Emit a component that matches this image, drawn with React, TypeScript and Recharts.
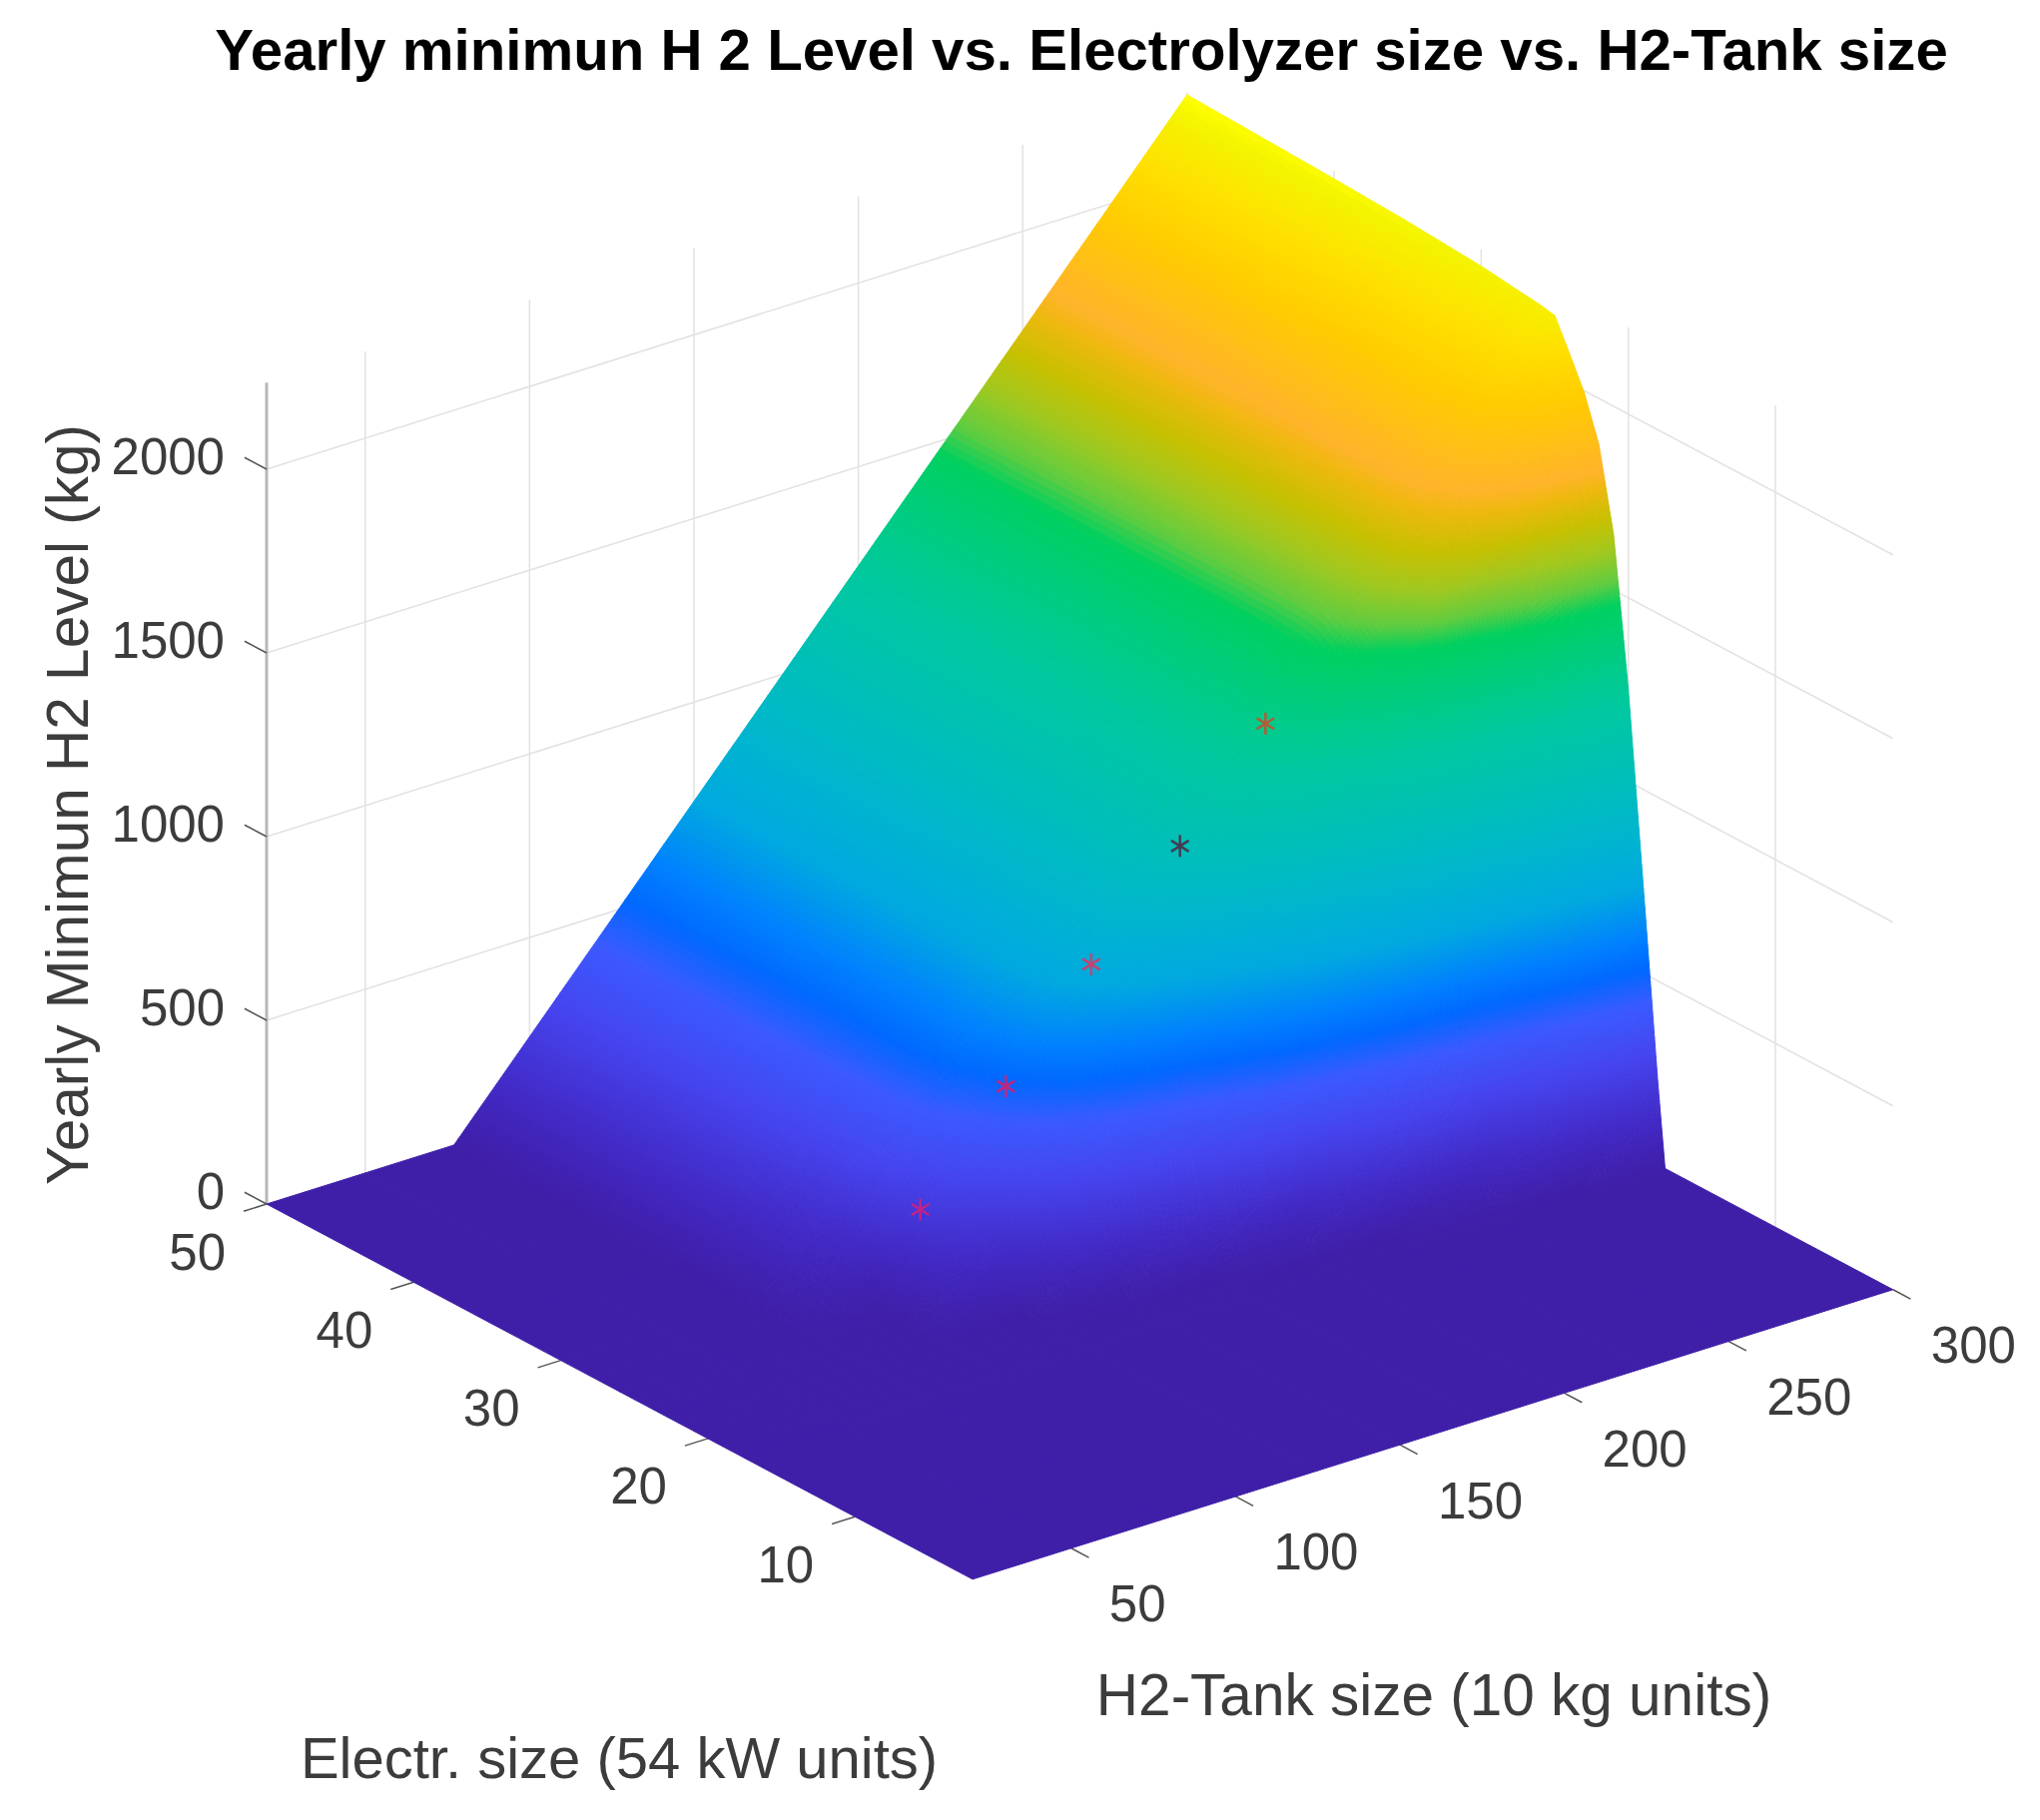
import React from 'react';
import { ComposedChart, Scatter, XAxis, YAxis } from 'recharts';

const W = 2043;
const H = 1823;

// surface grid
const electrSizes = [2, 17.5, 18, 19, 20, 21, 22, 23, 24, 25, 26, 28, 30, 35, 40, 50];
const tankSizes = [20, 50, 77, 100, 125, 150, 175, 200, 225, 250, 275, 300];
const minLevel = [
  [0, 0, 0, 0, 0, 0, 0, 0, 0, 0, 0, 0],
  [0, 0, 0, 0, 0, 0, 0, 0, 0, 0, 0, 0],
  [0, 0, 0, 0, 0, 0, 0, 0, 0, 0, 0, 227],
  [0, 0, 0, 0, 0, 0, 0, 0, 0, 90, 455, 745],
  [0, 0, 0, 0, 0, 0, 0, 80, 400, 640, 1000, 1250],
  [0, 0, 0, 0, 0, 20, 200, 500, 800, 1250, 1540, 1650],
  [0, 0, 0, 0, 0, 200, 420, 760, 1150, 1590, 1750, 1875],
  [0, 0, 0, 0, 80, 390, 650, 1000, 1370, 1660, 1850, 1995],
  [0, 0, 0, 0, 180, 540, 820, 1130, 1430, 1695, 1910, 2080],
  [0, 0, 0, 0, 280, 640, 910, 1190, 1460, 1712, 1945, 2162],
  [0, 0, 0, 10, 360, 690, 950, 1210, 1470, 1720, 1960, 2170],
  [0, 0, 0, 100, 450, 720, 972, 1222, 1476, 1725, 1968, 2180],
  [0, 0, 0, 160, 470, 726, 976, 1226, 1478, 1727, 1972, 2190],
  [0, 0, 0, 215, 478, 729, 979, 1229, 1480, 1729, 1975, 2205],
  [0, 0, 0, 225, 480, 730, 980, 1230, 1480, 1730, 1978, 2215],
  [0, 0, 0, 230, 480, 730, 980, 1230, 1480, 1730, 1980, 2231],
];

// the five marked points
const starElectr = [25, 25, 25, 25, 25];
const starTank = [107, 133, 159, 186, 212];
const starLevel = [272, 534, 793, 1039, 1299];
const starColors = ['#d4207c', '#d82070', '#d83a66', '#4a3048', '#c8502c'];

// axis ticks
const electrTicks = [10, 20, 30, 40, 50];
const tankTicks = [50, 100, 150, 200, 250, 300];
const levelTicks = [0, 500, 1000, 1500, 2000];

// colour ramp of the surface
const rampLevels = [0, 120, 300, 430, 520, 600, 730, 860, 978, 1210, 1350, 1470, 1530, 1610, 1690, 1770, 1810, 1980, 2090, 2190, 2231];
const rampColors = [
  '#3f1fa8', '#4228c4', '#4545f0', '#3a5aff', '#0068ff', '#0080ff', '#00a8e0', '#00b4d0', '#00bcc0', '#00c8a0',
  '#00cc80', '#00d060', '#60cc40', '#a0c820', '#c8c000', '#f0b810', '#ffb42a', '#ffcc00', '#ffe000', '#f4f400', '#ffff00',
];

const E_MAX = 50;
const E_MIN = 2;
const T_MIN = 20;
const T_MAX = 300;
const Z_TOP = 2236;

// fixed MATLAB-like view, no perspective in the picture
const project = (e: number, t: number, z: number) => ({
  x: 267 + (E_MAX - e) * 14.73 + (t - T_MIN) * 3.292,
  y: 1206 + (E_MAX - e) * 7.83 - (t - T_MIN) * 1.036 - z * 0.368,
});

const hexToRgb = (hex: string) => [
  parseInt(hex.slice(1, 3), 16),
  parseInt(hex.slice(3, 5), 16),
  parseInt(hex.slice(5, 7), 16),
];

const colorOf = (z: number) => {
  let i = 0;
  while (i < rampLevels.length - 2 && z > rampLevels[i + 1]) i++;
  const f = Math.min(1, Math.max(0, (z - rampLevels[i]) / (rampLevels[i + 1] - rampLevels[i])));
  const a = hexToRgb(rampColors[i]);
  const b = hexToRgb(rampColors[i + 1]);
  return `rgb(${a.map((v, k) => Math.round(v + (b[k] - v) * f)).join(',')})`;
};

// cells back to front so the near ones paint over the far ones
const cells: any[] = [];
for (let i = electrSizes.length - 1; i > 0; i--) {
  for (let j = tankSizes.length - 1; j > 0; j--) {
    const p = project(electrSizes[i], tankSizes[j], minLevel[i][j]);
    cells.push({ ...p, i, j });
  }
}

// one cell of the surface, shaded by steps like "shading interp"
const SurfaceCell = (props: any) => {
  const { cx, cy, payload } = props;
  const { i, j } = payload;
  const e0 = electrSizes[i - 1];
  const e1 = electrSizes[i];
  const t0 = tankSizes[j - 1];
  const t1 = tankSizes[j];
  const z00 = minLevel[i - 1][j - 1];
  const z01 = minLevel[i - 1][j];
  const z10 = minLevel[i][j - 1];
  const z11 = minLevel[i][j];
  const rangeE = Math.max(Math.abs(z10 - z00), Math.abs(z11 - z01));
  const rangeT = Math.max(Math.abs(z01 - z00), Math.abs(z11 - z10));
  const flat = Math.max(z00, z01, z10, z11) === Math.min(z00, z01, z10, z11);
  const nE = flat ? 1 : Math.min(32, Math.ceil(rangeE / 15) + 2);
  const nT = flat ? 1 : Math.min(32, Math.ceil(rangeT / 15) + 2);

  const at = (u: number, v: number) => {
    const z = z00 * (1 - u) * (1 - v) + z01 * (1 - u) * v + z10 * u * (1 - v) + z11 * u * v;
    const p = project(e0 + (e1 - e0) * u, t0 + (t1 - t0) * v, z);
    // one plane unit is one pixel on these axes
    return { x: cx + p.x - payload.x, y: cy + p.y - payload.y, z };
  };

  const paths = [];
  for (let a = nE - 1; a >= 0; a--) {
    for (let b = nT - 1; b >= 0; b--) {
      const p1 = at(a / nE, b / nT);
      const p2 = at(a / nE, (b + 1) / nT);
      const p3 = at((a + 1) / nE, (b + 1) / nT);
      const p4 = at((a + 1) / nE, b / nT);
      const fill = colorOf((p1.z + p2.z + p3.z + p4.z) / 4);
      paths.push(
        <path
          key={`${a}-${b}`}
          d={`M${p1.x} ${p1.y}L${p2.x} ${p2.y}L${p3.x} ${p3.y}L${p4.x} ${p4.y}Z`}
          fill={fill}
          stroke={fill}
          strokeWidth={1}
        />
      );
    }
  }
  return <g>{paths}</g>;
};

const Nothing = () => <g />;

const Star = (props: any) => {
  const { cx, cy, payload } = props;
  const r = 11;
  return (
    <g stroke={payload.color} strokeWidth={2.5} opacity={0.9}>
      <line x1={cx} y1={cy - r} x2={cx} y2={cy + r} />
      <line x1={cx - r * 0.8} y1={cy - r * 0.5} x2={cx + r * 0.8} y2={cy + r * 0.5} />
      <line x1={cx - r * 0.8} y1={cy + r * 0.5} x2={cx + r * 0.8} y2={cy - r * 0.5} />
    </g>
  );
};

const font = '"Liberation Sans", Arial, sans-serif';

const TickText = (props: any) => {
  const { cx, cy, payload } = props;
  return (
    <text
      x={cx + payload.dx}
      y={cy + payload.dy}
      textAnchor={payload.anchor}
      dominantBaseline="central"
      fontFamily={font}
      fontSize={51}
      fill="#3c3c3c"
    >
      {payload.label}
    </text>
  );
};

const Caption = (props: any) => {
  const { cx, cy, payload } = props;
  return (
    <text
      x={cx}
      y={cy}
      textAnchor="middle"
      fontFamily={font}
      fontSize={payload.size}
      fontWeight={payload.bold ? 700 : 400}
      fill={payload.color}
      transform={payload.rotate ? `rotate(-90 ${cx} ${cy})` : undefined}
    >
      {payload.text}
    </text>
  );
};

// wall grid and tick segments
type Seg = { a: number[]; b: number[]; stroke: string; width: number };
const segments: Seg[] = [];
const GRID = '#e2e2e2';
const TICK = '#555555';
tankTicks.forEach((t) => segments.push({ a: [E_MAX, t, 0], b: [E_MAX, t, Z_TOP], stroke: GRID, width: 1.5 }));
electrTicks.forEach((e) => segments.push({ a: [e, T_MAX, 0], b: [e, T_MAX, Z_TOP], stroke: GRID, width: 1.5 }));
levelTicks.slice(1).forEach((z) => {
  segments.push({ a: [E_MAX, T_MIN, z], b: [E_MAX, T_MAX, z], stroke: GRID, width: 1.5 });
  segments.push({ a: [E_MAX, T_MAX, z], b: [E_MIN, T_MAX, z], stroke: GRID, width: 1.5 });
});
segments.push({ a: [E_MAX, T_MIN, 0], b: [E_MAX, T_MIN, Z_TOP], stroke: '#b8b8b8', width: 3 });
levelTicks.forEach((z) => segments.push({ a: [E_MAX, T_MIN, z], b: [E_MAX + 1.5, T_MIN, z], stroke: TICK, width: 1.5 }));
electrTicks.forEach((e) => segments.push({ a: [e, T_MIN, 0], b: [e, T_MIN - 7, 0], stroke: TICK, width: 1.5 }));
tankTicks.forEach((t) => segments.push({ a: [E_MIN, t, 0], b: [E_MIN - 1.2, t, 0], stroke: TICK, width: 1.5 }));

const stars = starElectr.map((e, i) => ({
  ...project(e, starTank[i], starLevel[i]),
  color: starColors[i],
}));

const tickLabels = [
  ...levelTicks.map((z) => ({ ...project(E_MAX, T_MIN, z), label: String(z), anchor: 'end', dx: -42, dy: -13 })),
  ...electrTicks.map((e) => ({ ...project(e, T_MIN, 0), label: String(e), anchor: 'end', dx: -41, dy: 48 })),
  ...tankTicks.map((t) => ({ ...project(E_MIN, t, 0), label: String(t), anchor: 'start', dx: 38, dy: 56 })),
];

const captions = [
  { x: 1083, y: 70, text: 'Yearly minimun H 2 Level vs. Electrolyzer size vs. H2-Tank size', size: 58.2, bold: true, color: '#000000' },
  { x: 620, y: 1781, text: 'Electr. size (54 kW units)', size: 58, color: '#3c3c3c' },
  { x: 1436, y: 1718, text: 'H2-Tank size (10 kg units)', size: 58.5, color: '#3c3c3c' },
  { x: 88, y: 806, text: 'Yearly Minimun H2 Level (kg)', size: 58.5, color: '#3c3c3c', rotate: true },
];

export default function App() {
  return (
    <div style={{ position: 'absolute', left: 0, top: 0, width: W, height: H, background: '#fff' }}>
      <ComposedChart width={W} height={H} margin={{ top: 0, right: 0, bottom: 0, left: 0 }}>
        <XAxis type="number" dataKey="x" domain={[0, W]} hide />
        <YAxis type="number" dataKey="y" domain={[0, H]} reversed hide />
        {segments.map((s, i) => (
          <Scatter
            key={`seg-${i}`}
            data={[project(s.a[0], s.a[1], s.a[2]), project(s.b[0], s.b[1], s.b[2])]}
            line={{ stroke: s.stroke, strokeWidth: s.width }}
            shape={Nothing}
            isAnimationActive={false}
          />
        ))}
        <Scatter data={cells} shape={SurfaceCell} isAnimationActive={false} />
        <Scatter data={stars} shape={Star} isAnimationActive={false} />
        <Scatter data={tickLabels} shape={TickText} isAnimationActive={false} />
        <Scatter data={captions} shape={Caption} isAnimationActive={false} />
      </ComposedChart>
    </div>
  );
}
